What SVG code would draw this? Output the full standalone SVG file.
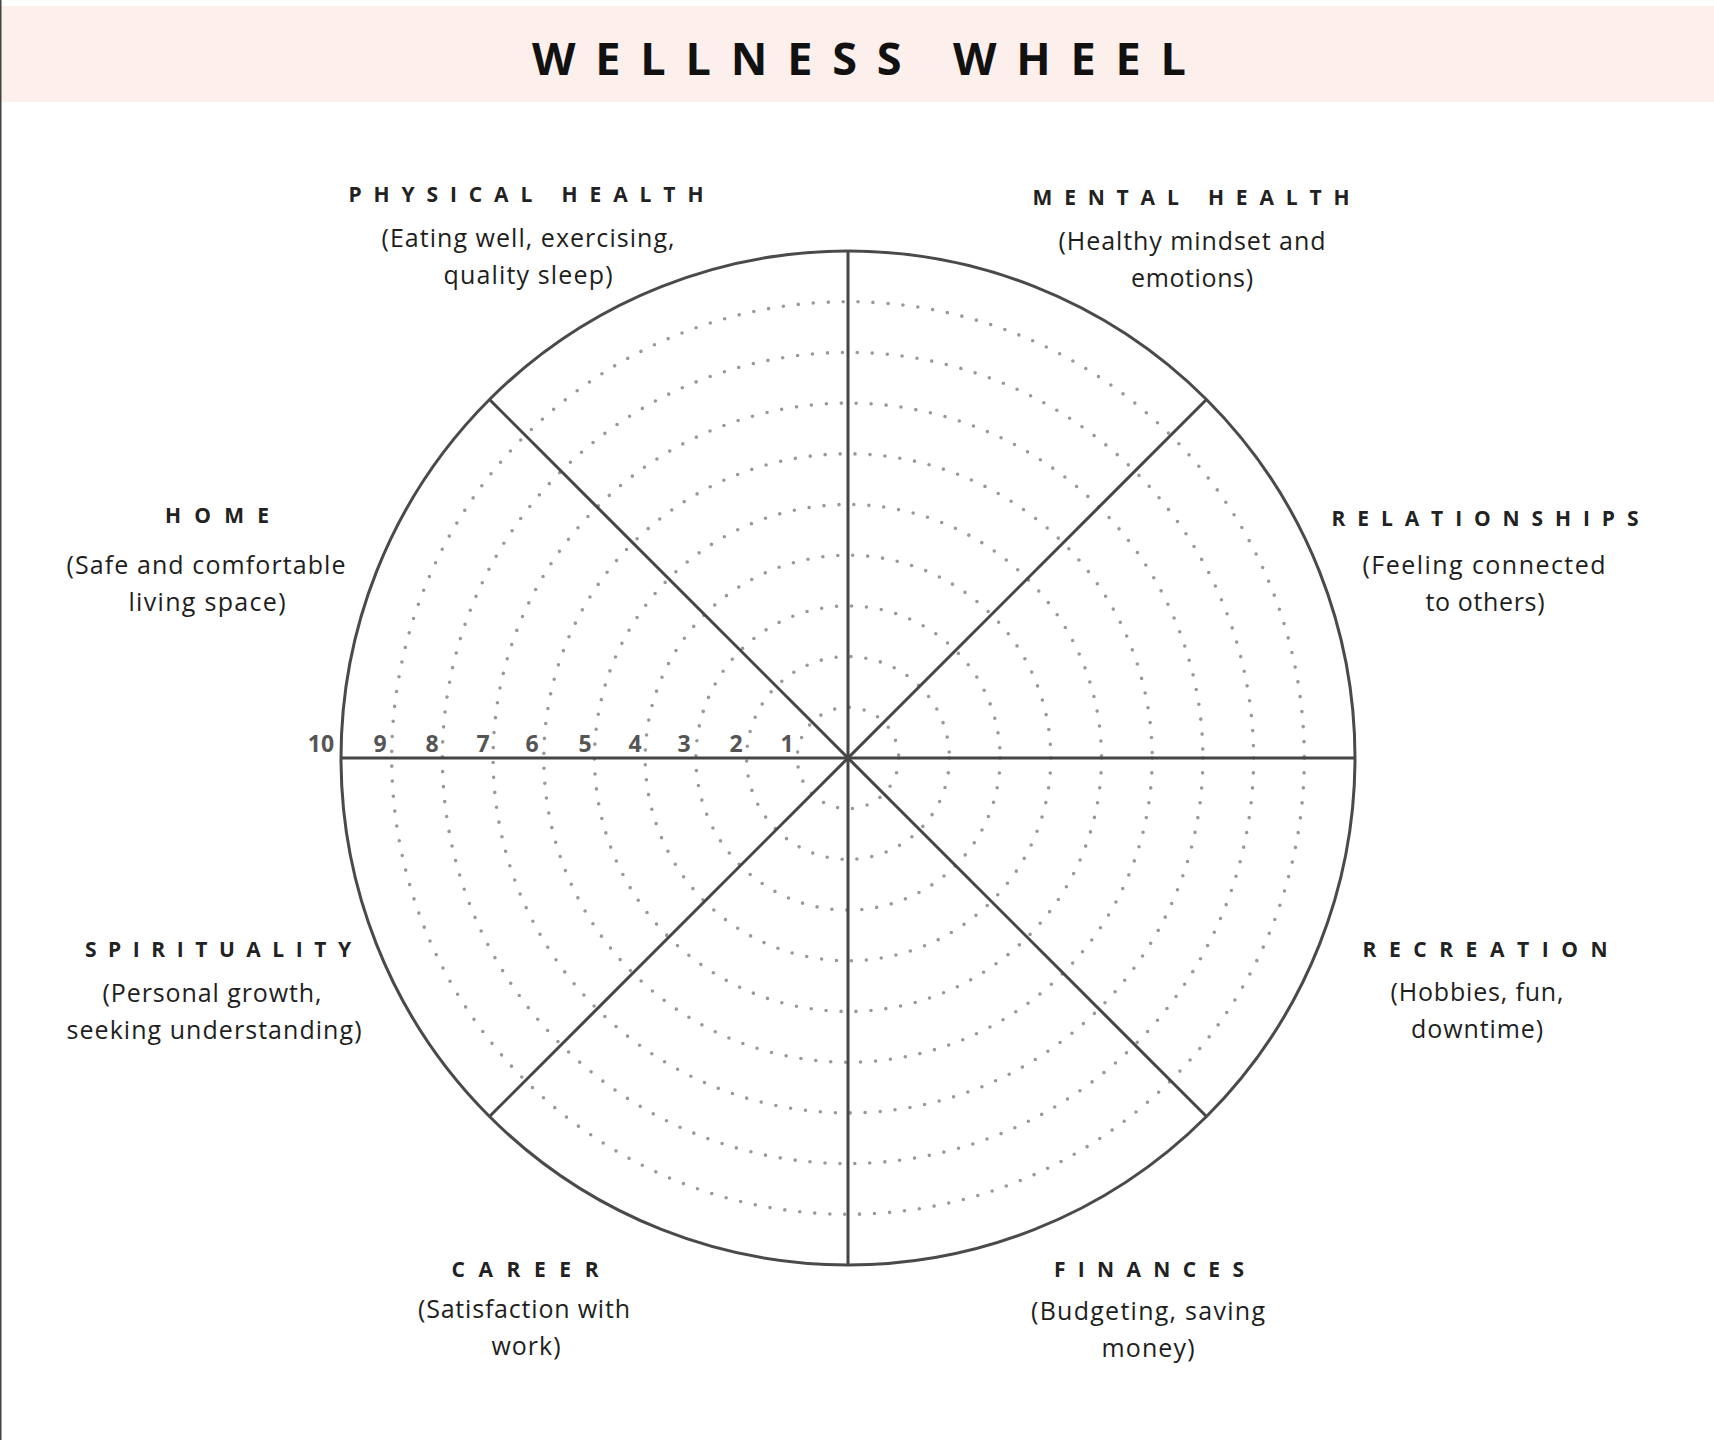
<svg xmlns="http://www.w3.org/2000/svg" width="1714" height="1440" viewBox="0 0 1714 1440">
<style>
.title{font-family:"Open Sans","Liberation Sans",sans-serif;font-weight:700;font-size:45px;fill:#111}
.head{font-family:"Open Sans","Liberation Sans",sans-serif;font-weight:700;font-size:21px;fill:#222;text-anchor:middle}
.desc{font-family:"Open Sans","Lato","Liberation Sans",sans-serif;font-weight:400;font-size:25px;fill:#1e1e1e;text-anchor:middle}
.num{font-family:"Open Sans","Liberation Sans",sans-serif;font-weight:700;font-size:23px;fill:#555;text-anchor:middle}
.ring{fill:none;stroke:#999;stroke-width:3.6;stroke-dasharray:0 15;stroke-linecap:round}
.spoke{stroke:#454545;stroke-width:3;fill:none}
</style>
<rect x="0" y="0" width="1714" height="1440" fill="#ffffff"/>
<rect x="0" y="6" width="1714" height="96" fill="#fcefec"/>
<line x1="0.75" y1="0" x2="0.75" y2="1440" stroke="#444" stroke-width="1.5"/>
<text class="title" x="532" y="75" textLength="654" lengthAdjust="spacing">WELLNESS WHEEL</text>

<g id="rings">
<circle class="ring" cx="848" cy="758" r="50.7"/>
<circle class="ring" cx="848" cy="758" r="101.4"/>
<circle class="ring" cx="848" cy="758" r="152.1"/>
<circle class="ring" cx="848" cy="758" r="202.8"/>
<circle class="ring" cx="848" cy="758" r="253.5"/>
<circle class="ring" cx="848" cy="758" r="304.2"/>
<circle class="ring" cx="848" cy="758" r="354.9"/>
<circle class="ring" cx="848" cy="758" r="405.6"/>
<circle class="ring" cx="848" cy="758" r="456.3"/>
</g>
<g id="connectors">
<line class="spoke" x1="848" y1="251" x2="848" y2="1265"/>
<line class="spoke" x1="341" y1="758" x2="1355" y2="758"/>
<line class="spoke" x1="489.5" y1="399.5" x2="1206.5" y2="1116.5"/>
<line class="spoke" x1="1206.5" y1="399.5" x2="489.5" y2="1116.5"/>
</g>
<circle id="outer" cx="848" cy="758" r="507" fill="none" stroke="#4a4a4a" stroke-width="3"/>

<g id="scale">
<text class="num" x="321" y="752">10</text>
<text class="num" x="380" y="752">9</text>
<text class="num" x="432" y="752">8</text>
<text class="num" x="483" y="752">7</text>
<text class="num" x="532" y="752">6</text>
<text class="num" x="585" y="752">5</text>
<text class="num" x="635" y="752">4</text>
<text class="num" x="684" y="752">3</text>
<text class="num" x="736" y="752">2</text>
<text class="num" x="787" y="752">1</text>
</g>

<g id="physical-health">
<text class="head" x="526" y="202" textLength="355" lengthAdjust="spacing">PHYSICAL HEALTH</text>
<text class="desc" x="528" y="247" textLength="293" lengthAdjust="spacing">(Eating well, exercising,</text>
<text class="desc" x="528" y="284" textLength="169" lengthAdjust="spacing">quality sleep)</text>
</g>
<g id="mental-health">
<text class="head" x="1191" y="205" textLength="317" lengthAdjust="spacing">MENTAL HEALTH</text>
<text class="desc" x="1192" y="250" textLength="267" lengthAdjust="spacing">(Healthy mindset and</text>
<text class="desc" x="1192" y="287" textLength="122" lengthAdjust="spacing">emotions)</text>
</g>
<g id="home">
<text class="head" x="217" y="523" textLength="104" lengthAdjust="spacing">HOME</text>
<text class="desc" x="206" y="574" textLength="279" lengthAdjust="spacing">(Safe and comfortable</text>
<text class="desc" x="207" y="611" textLength="157" lengthAdjust="spacing">living space)</text>
</g>
<g id="relationships">
<text class="head" x="1485" y="526" textLength="307" lengthAdjust="spacing">RELATIONSHIPS</text>
<text class="desc" x="1484" y="574" textLength="243" lengthAdjust="spacing">(Feeling connected</text>
<text class="desc" x="1485" y="611" textLength="119" lengthAdjust="spacing">to others)</text>
</g>
<g id="spirituality">
<text class="head" x="218" y="957" textLength="266" lengthAdjust="spacing">SPIRITUALITY</text>
<text class="desc" x="212" y="1002" textLength="219" lengthAdjust="spacing">(Personal growth,</text>
<text class="desc" x="214" y="1039" textLength="295" lengthAdjust="spacing">seeking understanding)</text>
</g>
<g id="recreation">
<text class="head" x="1485" y="957" textLength="245" lengthAdjust="spacing">RECREATION</text>
<text class="desc" x="1477" y="1001" textLength="173" lengthAdjust="spacing">(Hobbies, fun,</text>
<text class="desc" x="1477" y="1038" textLength="132" lengthAdjust="spacing">downtime)</text>
</g>
<g id="career">
<text class="head" x="525" y="1277" textLength="147" lengthAdjust="spacing">CAREER</text>
<text class="desc" x="524" y="1318" textLength="212" lengthAdjust="spacing">(Satisfaction with</text>
<text class="desc" x="526" y="1355" textLength="69" lengthAdjust="spacing">work)</text>
</g>
<g id="finances">
<text class="head" x="1149" y="1277" textLength="190" lengthAdjust="spacing">FINANCES</text>
<text class="desc" x="1148" y="1320" textLength="234" lengthAdjust="spacing">(Budgeting, saving</text>
<text class="desc" x="1148" y="1357" textLength="93" lengthAdjust="spacing">money)</text>
</g>
</svg>
